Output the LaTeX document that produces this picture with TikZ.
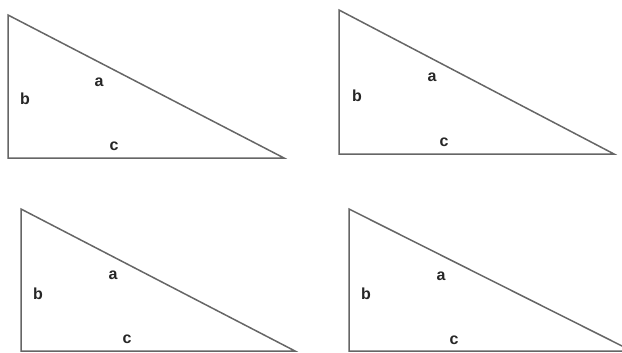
\documentclass[tikz,border=0pt]{standalone}
\usepackage{fontspec}
\setmainfont{Liberation Sans}
\begin{document}
\begin{tikzpicture}[x=1pt,y=-1pt,
  edge/.style={draw=black!60, line width=1.5pt, line join=miter},
  lbl/.style={font=\bfseries\fontsize{16}{16}\selectfont, text=black!85, inner sep=0pt}]
\useasboundingbox (0,0) rectangle (622,353);
\begin{scope}
\clip (0,0) rectangle (622,353);
% triangle 1
\coordinate (t1a) at (8,15); \coordinate (t1b) at (8,158); \coordinate (t1c) at (284,158);
\draw[edge] (t1a) -- (t1b) -- (t1c) -- cycle;
\node[lbl] (a1) at (99,82) {a};
\node[lbl] (b1) at (25,99) {b};
\node[lbl] (c1) at (114,146) {c};
% triangle 2
\coordinate (t2a) at (339,10); \coordinate (t2b) at (339,154); \coordinate (t2c) at (614,154);
\draw[edge] (t2a) -- (t2b) -- (t2c) -- cycle;
\node[lbl] (a2) at (432,77) {a};
\node[lbl] (b2) at (357,96) {b};
\node[lbl] (c2) at (444,142) {c};
% triangle 3
\coordinate (t3a) at (21,209); \coordinate (t3b) at (21,351); \coordinate (t3c) at (295,351);
\draw[edge] (t3a) -- (t3b) -- (t3c) -- cycle;
\node[lbl] (a3) at (113,275) {a};
\node[lbl] (b3) at (38,294) {b};
\node[lbl] (c3) at (127,339) {c};
% triangle 4
\coordinate (t4a) at (349,209); \coordinate (t4b) at (349,351); \coordinate (t4c) at (632,351);
\draw[edge] (t4a) -- (t4b) -- (t4c) -- cycle;
\node[lbl] (a4) at (441,276) {a};
\node[lbl] (b4) at (366,294) {b};
\node[lbl] (c4) at (454,340) {c};
\end{scope}
\end{tikzpicture}
\end{document}
